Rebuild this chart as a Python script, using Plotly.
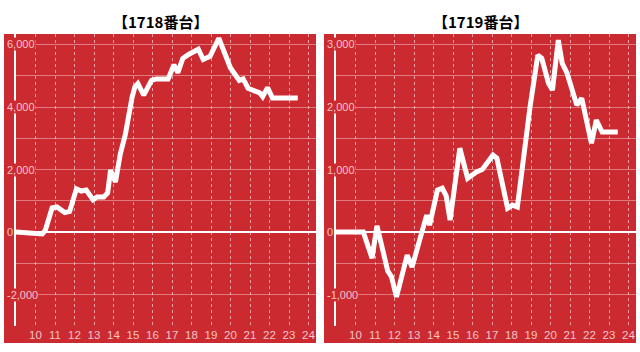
import plotly.graph_objects as go

# ---------------- data ----------------
titles = ["【1718番台】", "【1719番台】"]

hours_1718 = [9.0, 10.2, 10.35, 10.5, 10.85, 11.1, 11.5, 11.75, 12.1, 12.35, 12.6, 12.95,
              13.15, 13.5, 13.7, 13.85, 14.1, 14.35, 14.6, 14.95, 15.1, 15.25, 15.55,
              15.95, 16.2, 16.8, 17.1, 17.3, 17.55, 17.85, 18.35, 18.6, 18.95, 19.4,
              20.0, 20.45, 20.65, 20.9, 21.5, 21.65, 21.9, 22.15, 23.45]
values_1718 = [0, -20, -60, 50, 770, 800, 620, 660, 1380, 1310, 1340, 1030,
               1120, 1120, 1250, 1980, 1600, 2500, 3100, 4300, 4650, 4750, 4380,
               4850, 4900, 4900, 5350, 5100, 5550, 5680, 5850, 5520, 5620, 6200,
               5250, 4850, 4900, 4600, 4450, 4330, 4620, 4290, 4290]

hours_1719 = [9.0, 10.4, 10.85, 11.1, 11.65, 11.85, 12.1, 12.65, 12.9, 13.65, 13.8, 14.2,
              14.45, 14.65, 14.85, 15.35, 15.75, 16.2, 16.5, 17.05, 17.25, 17.8, 18.05,
              18.3, 18.95, 19.35, 19.55, 19.9, 20.1, 20.4, 20.6, 20.85, 21.35, 21.6,
              22.1, 22.35, 22.65, 23.45]
values_1719 = [0, 0, -420, 100, -620, -720, -1040, -370, -560, 270, 110, 670,
               700, 580, 190, 1340, 860, 960, 1000, 1230, 1180, 380, 430,
               400, 2000, 2830, 2780, 2380, 2270, 3070, 2700, 2540, 2030, 2140,
               1420, 1790, 1600, 1600]

x_ticks = list(range(10, 25))
x_tick_labels = [str(v) for v in x_ticks]

y_ticks_1718 = [6000, 4000, 2000, 0, -2000]
y_labels_1718 = ["6,000", "4,000", "2,000", "0", "-2,000"]
y_ticks_1719 = [3000, 2000, 1000, 0, -1000]
y_labels_1719 = ["3,000", "2,000", "1,000", "0", "-1,000"]

# ---------------- style ----------------
W, H = 640, 352
RED = "#cc2a31"
LABEL = "#f4c4c6"
HGRID = "rgba(255,255,255,0.38)"
VGRID = "rgba(255,255,255,0.55)"

def px(x):
    return x / W

def py(y):
    return 1 - y / H

panels = [
    dict(title=titles[0], x=hours_1718, y=values_1718, yt=y_ticks_1718, yl=y_labels_1718,
         left=4, axis=16, right=316, yrange=[-3008, 6336], minor=1000, major=2000),
    dict(title=titles[1], x=hours_1719, y=values_1719, yt=y_ticks_1719, yl=y_labels_1719,
         left=324, axis=336, right=636, yrange=[-1504, 3168], minor=500, major=1000),
]

fig = go.Figure()
shapes = []
annotations = []
top_px, bottom_px = 34, 326

for i, p in enumerate(panels):
    xa = "x" if i == 0 else "x2"
    ya = "y" if i == 0 else "y2"
    fig.add_trace(go.Scatter(x=p["x"], y=p["y"], mode="lines",
                             line=dict(color="white", width=5),
                             xaxis=xa, yaxis=ya, hoverinfo="skip", showlegend=False))
    xr = [9, 9 + (p["right"] - p["axis"]) / 19.5]
    axis_x = dict(domain=[px(p["axis"]), px(p["right"])], range=xr,
                  tickvals=x_ticks, ticktext=x_tick_labels, showgrid=True,
                  gridcolor=VGRID, griddash="dot", gridwidth=1, zeroline=False,
                  showline=False, ticks="", tickfont=dict(color=LABEL, size=11.5,
                  family="Liberation Sans, Arial, sans-serif"), fixedrange=True)
    axis_y = dict(domain=[py(bottom_px), py(top_px)], range=p["yrange"],
                  dtick=p["major"], tick0=0, showgrid=True, gridcolor=HGRID, gridwidth=1,
                  minor=dict(dtick=p["minor"], tick0=0, showgrid=True, gridcolor=HGRID,
                             gridwidth=1),
                  zeroline=True, zerolinecolor="white", zerolinewidth=2,
                  showline=True, linecolor="white", linewidth=2, showticklabels=False,
                  ticks="", fixedrange=True, anchor=xa)
    axis_x["anchor"] = ya
    if i == 0:
        fig.update_layout(xaxis=axis_x, yaxis=axis_y)
    else:
        fig.update_layout(xaxis2=axis_x, yaxis2=axis_y)

    # red panel background
    shapes.append(dict(type="rect", xref="paper", yref="paper",
                       x0=px(p["left"]), x1=px(p["right"]), y0=py(343), y1=py(34),
                       fillcolor=RED, line=dict(width=0), layer="below"))
    # title
    annotations.append(dict(text="<b>" + p["title"] + "</b>", xref="paper", yref="paper",
                            x=px((p["left"] + p["right"]) / 2), y=py(21),
                            xanchor="center", yanchor="middle", showarrow=False,
                            font=dict(size=15, color="black",
                                      family="Noto Sans CJK JP, sans-serif")))
    # y tick labels (left-aligned, with red backing over axis line)
    for v, lab in zip(p["yt"], p["yl"]):
        annotations.append(dict(text=lab, xref="paper", yref=ya, x=px(p["left"] + 2), y=v,
                                xanchor="left", yanchor="middle", showarrow=False,
                                bgcolor=RED, borderpad=0,
                                font=dict(size=11, color=LABEL,
                                          family="Liberation Sans, Arial, sans-serif")))

fig.update_layout(width=W, height=H, margin=dict(l=0, r=0, t=0, b=0),
                  paper_bgcolor="white", plot_bgcolor="rgba(0,0,0,0)",
                  shapes=shapes, annotations=annotations, showlegend=False)

fig.write_html("out.html", config={"displayModeBar": False})
